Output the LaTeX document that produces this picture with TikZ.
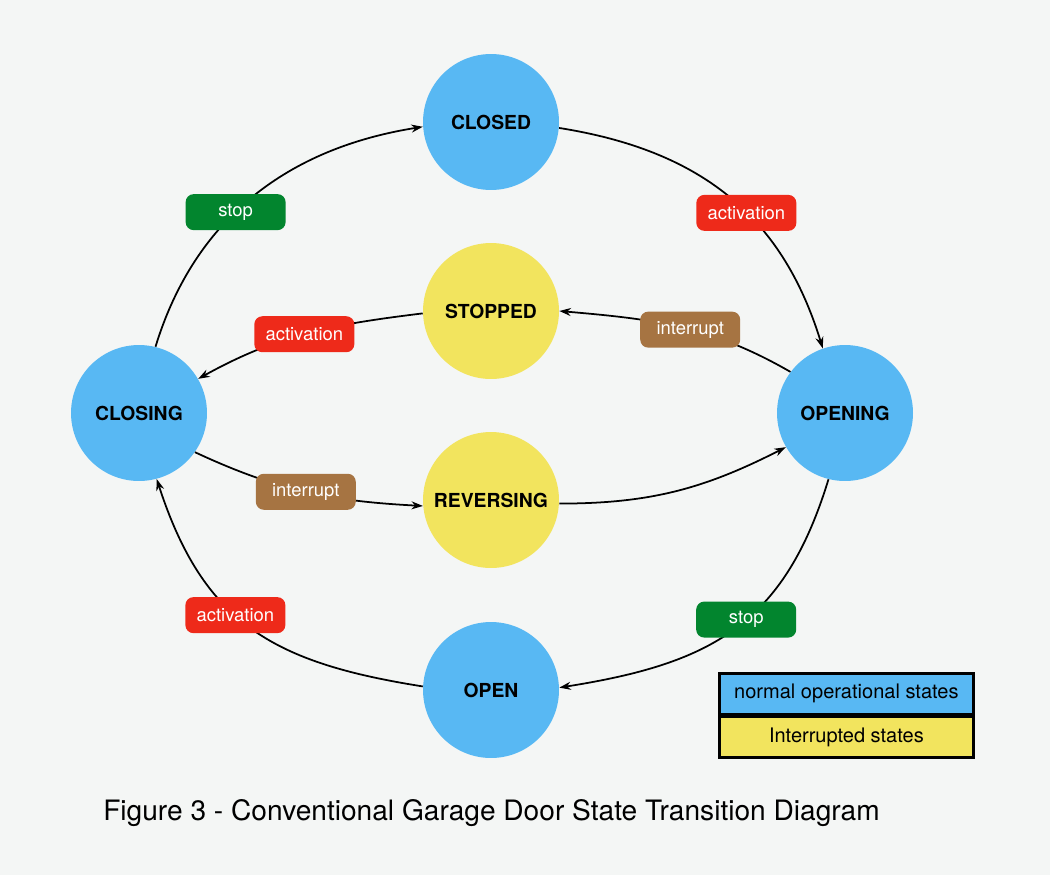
\documentclass[tikz,border=0pt]{standalone}
\usepackage{fontspec}
\setmainfont{TeX Gyre Heros}
\usetikzlibrary{arrows.meta}
\definecolor{bg}{RGB}{244,246,245}
\definecolor{stateblue}{RGB}{88,184,243}
\definecolor{stateyellow}{RGB}{242,228,94}
\definecolor{lred}{RGB}{238,42,26}
\definecolor{lgreen}{RGB}{2,133,46}
\definecolor{lbrown}{RGB}{166,116,66}
\begin{document}
\begin{tikzpicture}[x=0.02cm,y=0.02cm,
  state/.style={circle,fill=stateblue,minimum size=2.72cm,inner sep=0pt,
    font=\bfseries\fontsize{11}{13}\selectfont},
  istate/.style={state,fill=stateyellow},
  lbl/.style={rectangle,rounded corners=1.6mm,minimum width=2cm,minimum height=0.72cm,
    inner sep=0pt,text=white,font=\fontsize{10.5}{12}\selectfont},
  conn/.style={line width=1pt,-{Stealth[length=2.3mm,width=1.6mm]}},
  legend/.style={rectangle,draw=black,line width=1.6pt,minimum width=5.08cm,
    minimum height=0.81cm,inner sep=0pt,font=\fontsize{11.4}{13}\selectfont}]
\fill[bg] (0,0) rectangle (1050,-875);
\useasboundingbox (0,0) rectangle (1050,-875);

\node[state]  (closed)    at (491,-122) {CLOSED};
\node[istate] (stopped)   at (491,-311) {STOPPED};
\node[istate] (reversing) at (491,-500) {REVERSING};
\node[state]  (open)      at (491,-690) {OPEN};
\node[state]  (closing)   at (139,-413) {CLOSING};
\node[state]  (opening)   at (845,-413) {OPENING};

\draw[conn] (closing.76) to[out=73,in=189] node[pos=0.43,lbl,fill=lgreen]{stop} (closed.184);
\draw[conn] (closed.355) to[out=-9,in=107,looseness=1.05] node[pos=0.575,lbl,fill=lred]{activation} (opening.109);
\draw[conn] (opening.143) to[out=150,in=-5] node[pos=0.45,lbl,fill=lbrown]{interrupt} (stopped.0);
\draw[conn] (stopped.182) to[out=187,in=29] node[pos=0.51,lbl,fill=lred]{activation} (closing.30);
\draw[conn] (closing.-35) to[out=-25,in=177] node[pos=0.5,lbl,fill=lbrown]{interrupt} (reversing.185);
\draw[conn] (reversing.-3) to[out=0,in=207] (opening.210);
\draw[conn] (opening.256) to[out=253,in=9,looseness=1.15] node[pos=0.45,lbl,fill=lgreen]{stop} (open.2);
\draw[conn] (open.177) to[out=171,in=-72,looseness=1.15] node[pos=0.565,lbl,fill=lred]{activation} (closing.285);

\node[legend,fill=stateblue,anchor=north west] (leg1) at (718,-672) {normal operational states};
\node[legend,fill=stateyellow,anchor=north] (leg2) at (leg1.south) {Interrupted states};

\node[font=\fontsize{16}{19}\selectfont] (title) at (491.5,-813) {Figure 3 - Conventional Garage Door State Transition Diagram};
\end{tikzpicture}
\end{document}
